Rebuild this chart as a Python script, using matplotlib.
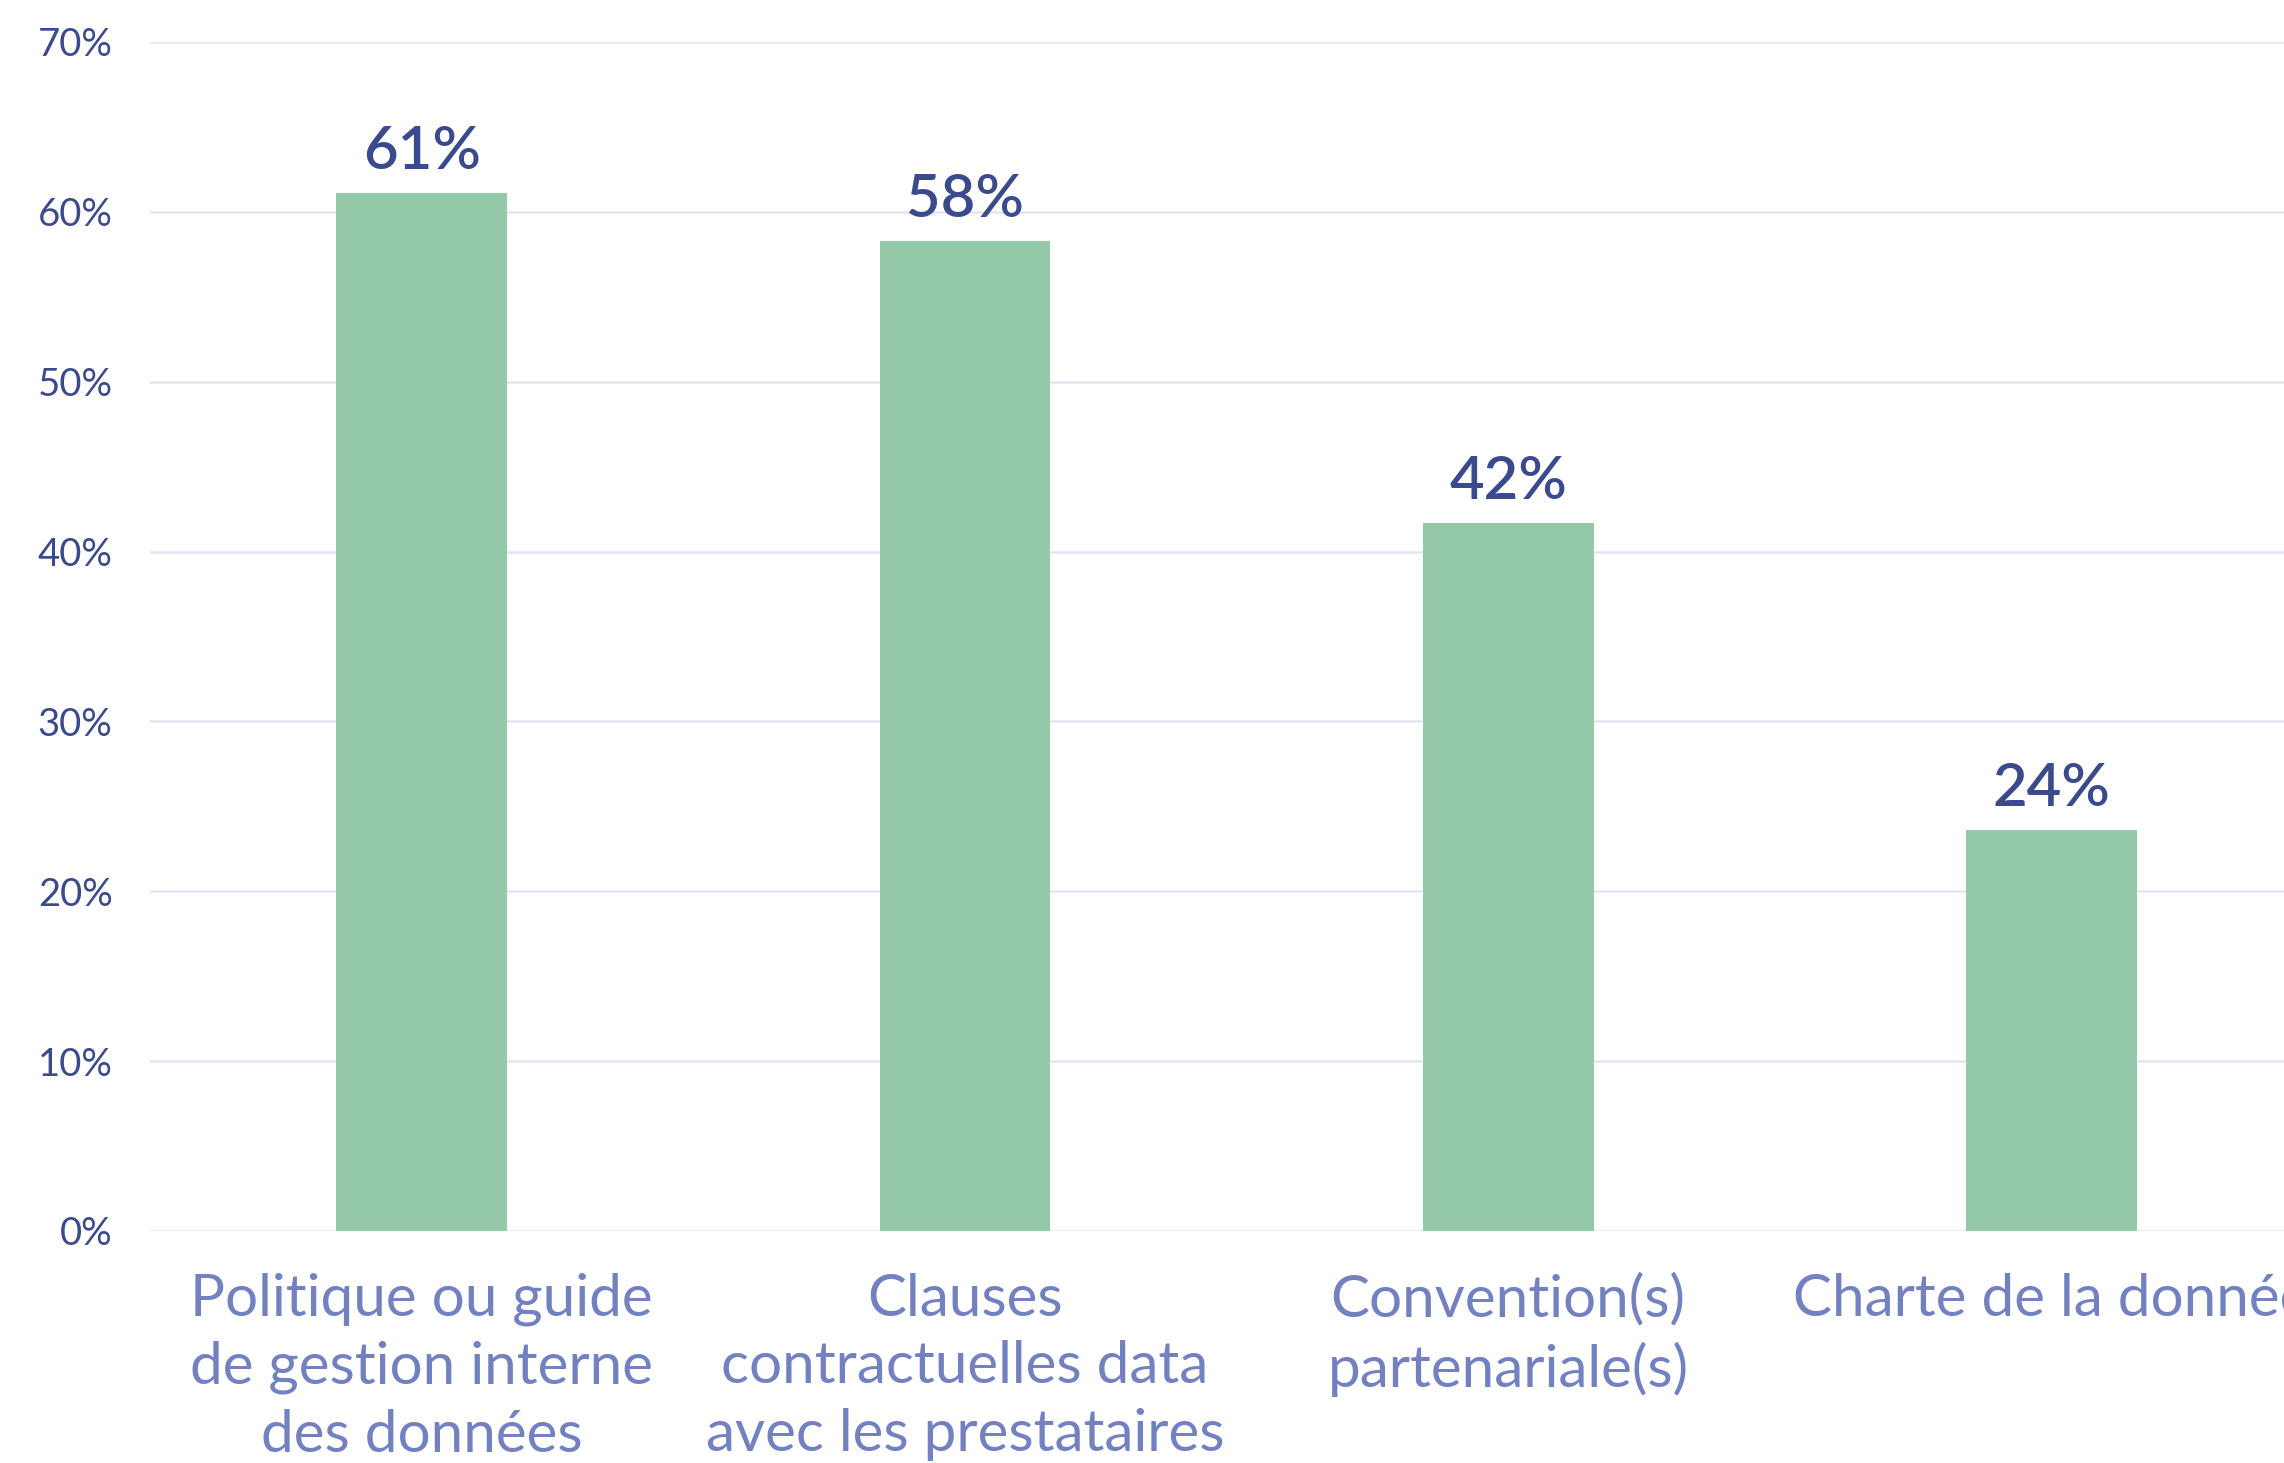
import matplotlib.pyplot as plt
from matplotlib.ticker import FuncFormatter

# données
categories = [
    "Politique ou guide\nde gestion interne\ndes données",
    "Clauses\ncontractuelles data\navec les prestataires",
    "Convention(s)\npartenariale(s)",
    "Charte de la donnée",
]
values = [61.1, 58.3, 41.7, 23.6]
value_labels = ["61%", "58%", "42%", "24%"]
yticks = [0, 10, 20, 30, 40, 50, 60, 70]

BAR = "#94c9a9"
NAVY = "#3b4a8c"
LIGHT = "#7381c1"
GRID = "#e3e5f2"

plt.rcParams['font.family'] = ['Lato', 'DejaVu Sans']

fig = plt.figure(figsize=(22.84, 14.63), dpi=100)
ax = fig.add_axes([0.0657, 0.1586, 0.9343, 0.8127])

x = range(len(categories))
bars = ax.bar(x, values, width=0.314, color=BAR, zorder=3)

for b, lab in zip(bars, value_labels):
    ax.annotate(lab, (b.get_x() + b.get_width() / 2, b.get_height()),
                xytext=(0, 10), textcoords='offset points',
                ha='center', va='bottom', fontsize=43, color=NAVY,
                fontweight='semibold')

ax.set_xlim(-0.5, 3.428)
ax.set_ylim(0, 70)
ax.set_yticks(yticks)
ax.yaxis.set_major_formatter(FuncFormatter(lambda v, p: f"{v:.0f}%"))
ax.grid(axis='y', color=GRID, linewidth=1.8, zorder=0)
ax.set_axisbelow(True)

ax.set_xticks(list(x))
ax.set_xticklabels(categories, fontsize=42, color=LIGHT, linespacing=1.34, va='top')
ax.tick_params(axis='x', length=0, pad=30)
ax.tick_params(axis='y', length=0, pad=27, labelsize=27.5, labelcolor=NAVY)

for s in ax.spines.values():
    s.set_visible(False)

fig.savefig("out.png", dpi=100)
